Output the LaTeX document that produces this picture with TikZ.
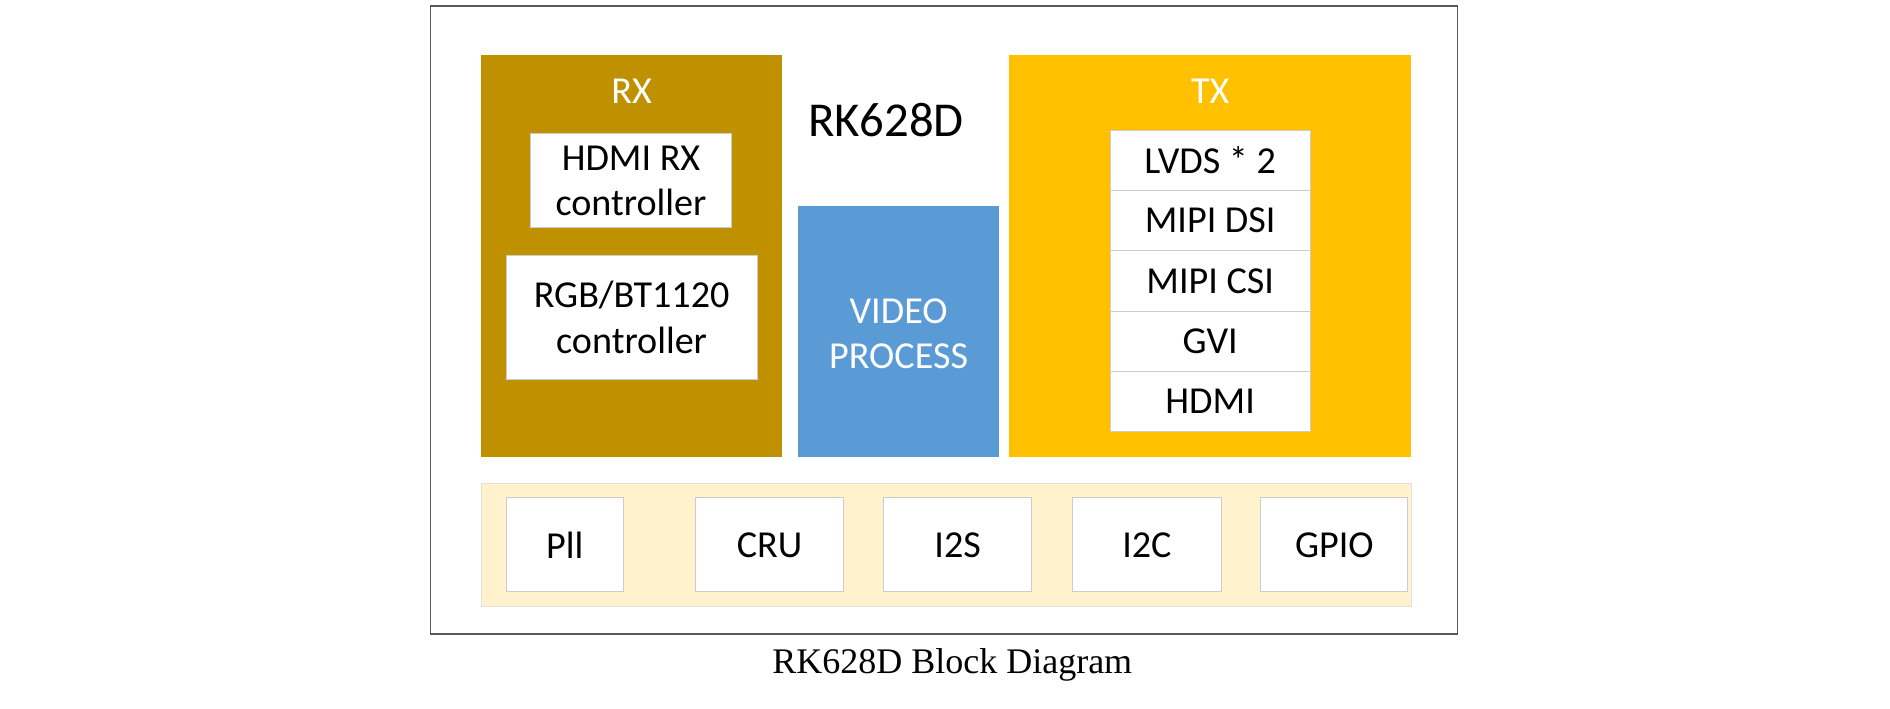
\documentclass[tikz,border=0pt]{standalone}
\usepackage{fontspec}
\setmainfont{Carlito}
\newfontfamily\capfont{Liberation Serif}
\usetikzlibrary{positioning}
\definecolor{rxcol}{HTML}{BF9000}
\definecolor{txcol}{HTML}{FFC000}
\definecolor{vpcol}{HTML}{5B9BD5}
\definecolor{bandcol}{HTML}{FFF2CC}
\begin{document}
\begin{tikzpicture}[x=0.02cm, y=-0.02cm]
\tikzstyle{blk}=[draw=gray!40, line width=0.6pt]
\tikzstyle{sub}=[rectangle, draw=gray!40, fill=white, inner sep=0pt, align=center, font=\fontsize{18}{21.5}\selectfont]
\tikzstyle{ttl}=[text=white, font=\fontsize{18}{21.5}\selectfont]
\useasboundingbox (0,0) rectangle (1568,588);
%chip outline
\draw[gray!70!black, line width=0.6pt] (357,5) rectangle (1209,526);
\node[font=\fontsize{23}{28}\selectfont] (chip) at (735,100) {RK628D};
%RX
\fill[rxcol] (399,46) rectangle (649,379);
\node[ttl] (rx) at (524,76) {RX};
\node[sub, minimum width=3.34cm, minimum height=1.56cm] (hdmirx) at (523.5,150) {HDMI RX\\controller};
\node[sub, minimum width=4.16cm, minimum height=2.06cm] (rgb) at (524,263.5) {RGB/BT1120\\controller};
%video
\fill[vpcol] (662,171) rectangle (829,379);
\node[ttl, align=center] (vp) at (745.5,277) {VIDEO\\PROCESS};
%TX
\fill[txcol] (837,46) rectangle (1171,379);
\node[ttl] (tx) at (1004,76) {TX};
\foreach \n/\t [count=\i] in {lvds/LVDS * 2, dsi/MIPI DSI, csi/MIPI CSI, gvi/GVI, hdmi/HDMI}{
  \node[sub, minimum width=3.32cm, minimum height=1cm] (\n) at (1004,83+50*\i) {\t};
}
%peripherals
\fill[bandcol] (399,401) rectangle (1171,503);
\draw[gray!25] (399,401) rectangle (1171,503);
\foreach \n/\t/\c/\w in {pll/Pll/468.5/1.94, cru/CRU/638.5/2.46, iis/I2S/794.5/2.46, iic/I2C/951.5/2.46, gpio/GPIO/1107/2.44}{
  \node[sub, minimum width=\w cm, minimum height=1.56cm] (\n) at (\c,452) {\t};
}
\node[font=\capfont\fontsize{17}{20}\selectfont] (cap) at (790,552) {RK628D Block Diagram};
\end{tikzpicture}
\end{document}
